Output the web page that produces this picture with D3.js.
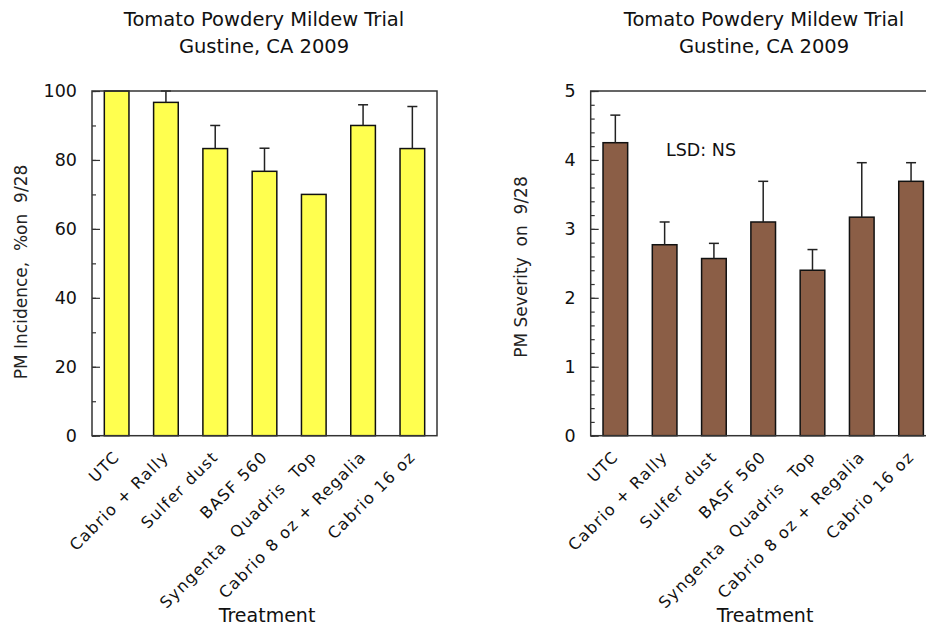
<!DOCTYPE html>
<html>
<head>
<meta charset="utf-8">
<script src="https://cdn.jsdelivr.net/npm/d3@7"></script>
<style>
  html, body { margin: 0; padding: 0; background: #fff; }
  svg { display: block; font-family: "DejaVu Sans", sans-serif; }
</style>
</head>
<body>
<svg id="chart" width="926" height="629"></svg>
<script>
const treatments = ["UTC", "Cabrio + Rally", "Sulfer dust", "BASF 560", "Syngenta  Quadris  Top", "Cabrio 8 oz + Regalia", "Cabrio 16 oz"];
const incidence = [100, 96.7, 83.3, 76.7, 70.0, 90.0, 83.3];
const incidenceErr = [0, 3.3, 6.7, 6.7, 0, 6.0, 12.2];
const severity = [4.25, 2.77, 2.57, 3.10, 2.40, 3.17, 3.69];
const severityErr = [0.40, 0.33, 0.22, 0.59, 0.30, 0.79, 0.27];
const incidenceTicks = [0, 20, 40, 60, 80, 100];
const severityTicks = [0, 1, 2, 3, 4, 5];

const svg = d3.select("#chart");

function panel(opts) {
  const g = svg.append("g");
  const x = d3.scaleBand().domain(treatments).range([opts.left, opts.right]).paddingInner(0.5).paddingOuter(0.25);
  const y = d3.scaleLinear().domain(opts.domain).range([opts.bottom, opts.top]);

  // title
  const t = g.append("text").attr("text-anchor", "middle").attr("font-size", 19.5).attr("fill", "#111");
  t.append("tspan").attr("x", opts.titleX).attr("y", 26).text("Tomato Powdery Mildew Trial");
  t.append("tspan").attr("x", opts.titleX).attr("y", 53).text("Gustine, CA 2009");

  // bars
  g.selectAll(".bar").data(opts.values).join("rect")
    .attr("x", (d, i) => x(treatments[i]))
    .attr("width", x.bandwidth())
    .attr("y", d => y(d))
    .attr("height", d => y(0) - y(d))
    .attr("fill", opts.color)
    .attr("stroke", "#111")
    .attr("stroke-width", 1.5);

  // error bars
  const eg = g.append("g").attr("stroke", "#222").attr("stroke-width", 1.5);
  opts.values.forEach((v, i) => {
    const e = opts.errors[i];
    if (!e) return;
    const cx = x(treatments[i]) + x.bandwidth() / 2;
    eg.append("line").attr("x1", cx).attr("x2", cx).attr("y1", y(v)).attr("y2", y(v + e));
    eg.append("line").attr("x1", cx - 5).attr("x2", cx + 5).attr("y1", y(v + e)).attr("y2", y(v + e));
  });

  // minor ticks
  g.append("g").attr("transform", `translate(${opts.left},0)`)
    .call(d3.axisLeft(y).tickValues(d3.range(opts.domain[0], opts.domain[1] + 1e-9, opts.minor)).tickSize(-4).tickFormat(""))
    .call(a => a.select(".domain").remove())
    .call(a => a.selectAll("line").attr("stroke", "#333").attr("stroke-width", 1.2));

  // major ticks
  g.append("g").attr("transform", `translate(${opts.left},0)`)
    .call(d3.axisLeft(y).tickValues(opts.ticks).tickSize(-8).tickPadding(15).tickFormat(d3.format("d")))
    .call(a => a.select(".domain").remove())
    .call(a => a.selectAll("line").attr("stroke", "#333").attr("stroke-width", 1.2))
    .call(a => a.selectAll("text").attr("font-size", 17.5).attr("fill", "#111").attr("font-family", "DejaVu Sans"));

  // frame
  g.append("rect").attr("x", opts.left).attr("y", opts.top)
    .attr("width", opts.right - opts.left).attr("height", opts.bottom - opts.top)
    .attr("fill", "none").attr("stroke", "#333").attr("stroke-width", 1.5);

  // x labels
  g.selectAll(".xl").data(treatments).join("text")
    .attr("transform", d => `translate(${x(d) + x.bandwidth() / 2 + 4},458) rotate(-45)`)
    .attr("text-anchor", "end")
    .attr("font-size", 16)
    .attr("letter-spacing", 1.3)
    .attr("fill", "#111")
    .style("white-space", "pre")
    .text(d => d);

  // x title
  g.append("text").attr("x", opts.treatX).attr("y", 622).attr("text-anchor", "middle")
    .attr("font-size", 19).attr("fill", "#111").text("Treatment");

  // y title
  g.append("text").attr("transform", `translate(${opts.yLabX},${opts.yLabY}) rotate(-90)`)
    .attr("text-anchor", "middle").attr("font-size", 17).attr("fill", "#222")
    .style("white-space", "pre").text(opts.yLabel);

  return { g, x, y };
}

panel({
  left: 92, right: 437, top: 91, bottom: 435.7, domain: [0, 100], minor: 10,
  ticks: incidenceTicks, values: incidence, errors: incidenceErr, color: "#ffff4f",
  titleX: 264, treatX: 267, yLabX: 27, yLabY: 272, yLabel: "PM Incidence,  %on  9/28"
});

const right = panel({
  left: 590.7, right: 935.7, top: 91, bottom: 435.7, domain: [0, 5], minor: 0.2,
  ticks: severityTicks, values: severity, errors: severityErr, color: "#8b5e46",
  titleX: 764, treatX: 765, yLabX: 527, yLabY: 267, yLabel: "PM Severity  on  9/28"
});

right.g.append("text").attr("x", 666).attr("y", 156).attr("font-size", 17.5).attr("fill", "#111").text("LSD: NS");
</script>
</body>
</html>
